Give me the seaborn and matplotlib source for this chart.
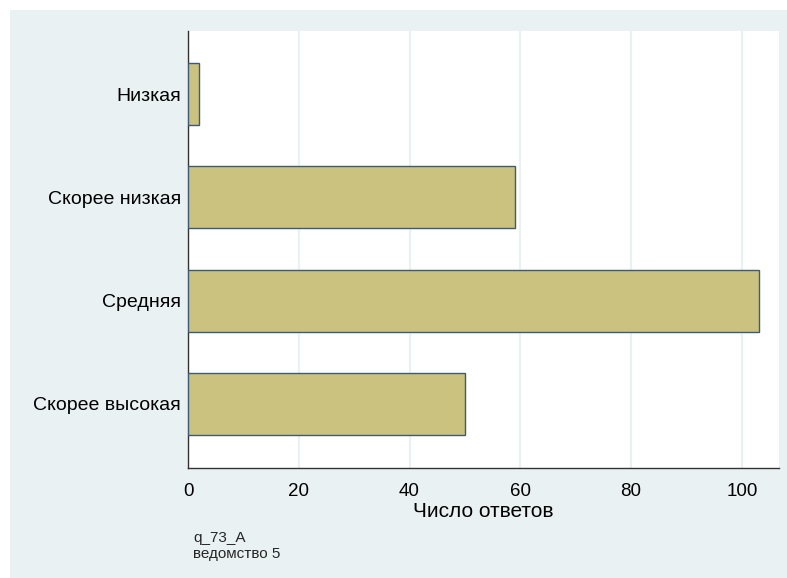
import matplotlib
matplotlib.use("Agg")
import matplotlib.pyplot as plt
import seaborn as sns
import pandas as pd
from matplotlib.patches import Rectangle

# --- data ---
categories = ["Низкая", "Скорее низкая", "Средняя", "Скорее высокая"]
counts = [2, 59, 103, 50]
x_ticks = [0, 20, 40, 60, 80, 100]
x_label = "Число ответов"
note_lines = ["q_73_A", "ведомство 5"]

BG = "#EAF1F3"
BAR = "#CAC27E"
EDGE = "#3E5A74"

sns.set_theme(style="white")
plt.rcParams["font.family"] = ["Liberation Sans", "DejaVu Sans"]

W, H = 787, 578
fig = plt.figure(figsize=(W / 100, H / 100), dpi=100, facecolor="white")
# light outer region (white strip top and left)
fig.patches.append(Rectangle((10 / W, 0), 1 - 10 / W, 1 - 10 / H,
                             transform=fig.transFigure, facecolor=BG,
                             edgecolor="none", zorder=-10))

ax = fig.add_axes([188 / W, (H - 468) / H, (779 - 188) / W, (468 - 31) / H])
ax.set_facecolor("white")

df = pd.DataFrame({"cat": categories, "n": counts})
sns.barplot(data=df, x="n", y="cat", orient="h", color=BAR, width=0.6,
            edgecolor=EDGE, linewidth=1.0, saturation=1, ax=ax, zorder=3)

ax.set_xlim(0, 106.7)
ax.set_ylim(3.62, -0.61)
ax.set_xticks(x_ticks)
ax.xaxis.grid(True, color=BG, linewidth=1.6, zorder=1)
ax.yaxis.grid(False)
ax.set_axisbelow(True)

for s in ["top", "right"]:
    ax.spines[s].set_visible(False)
for s in ["left", "bottom"]:
    ax.spines[s].set_color("#333333")
    ax.spines[s].set_linewidth(1.0)

ax.tick_params(axis="x", length=5, width=1, color="#333333", direction="out",
               labelsize=13.5, pad=6, labelcolor="black")
ax.tick_params(axis="y", length=0, labelsize=14, pad=5, labelcolor="black")
ax.set_ylabel("")
ax.set_xlabel(x_label, fontsize=15, color="black", labelpad=1)

fig.text(193 / W, 1 - 542 / H, note_lines[0], fontsize=11, va="baseline", ha="left")
fig.text(193 / W, 1 - 558 / H, note_lines[1], fontsize=11, va="baseline", ha="left")

fig.savefig("out.png", dpi=100, facecolor=fig.get_facecolor())
